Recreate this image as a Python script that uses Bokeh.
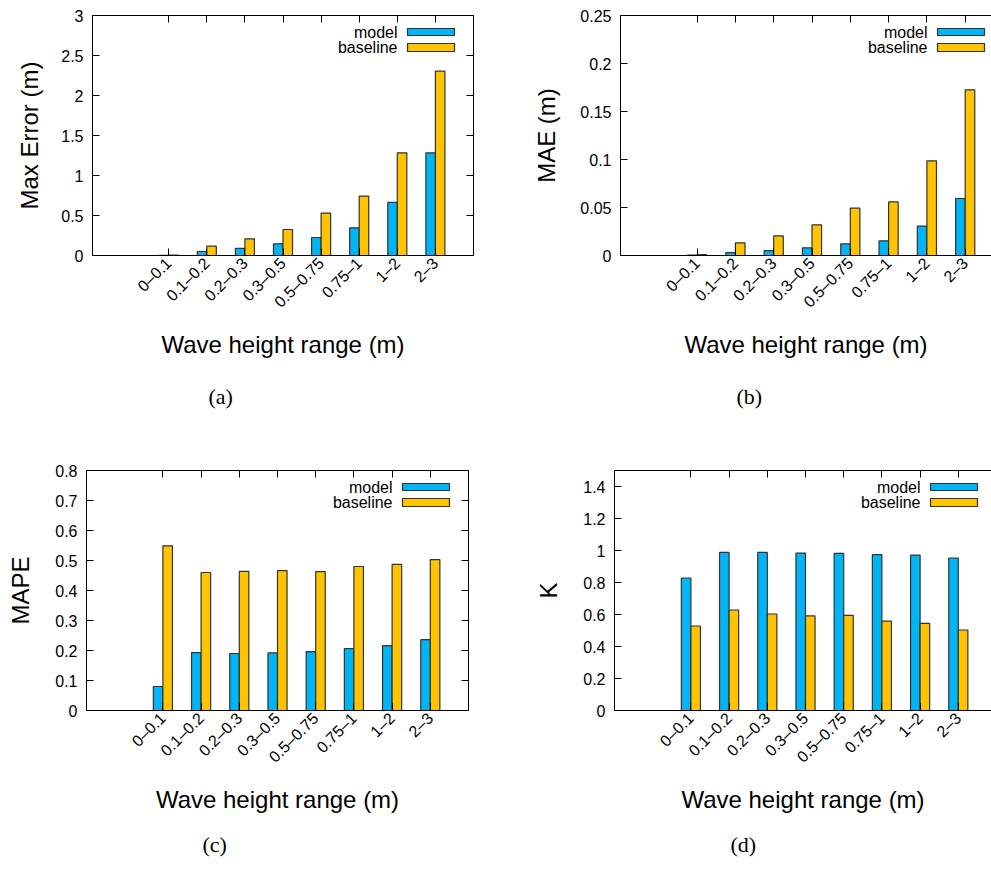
import math
from bokeh.plotting import figure
from bokeh.models import (ColumnDataSource, Range1d, FixedTicker, LinearAxis,
                          NumeralTickFormatter, Label, BoxAnnotation, Title)
from bokeh.layouts import column, row
from bokeh.transform import dodge
from bokeh.embed import file_html
from bokeh.resources import INLINE

categories = ["0\u20130.1", "0.1\u20130.2", "0.2\u20130.3", "0.3\u20130.5",
              "0.5\u20130.75", "0.75\u20131", "1\u20132", "2\u20133"]
series_names = ["model", "baseline"]

maxerr_model = [0.003, 0.05, 0.088, 0.146, 0.225, 0.346, 0.663, 1.283]
maxerr_baseline = [0.006, 0.117, 0.208, 0.325, 0.529, 0.742, 1.283, 2.304]
mae_model = [0.0005, 0.003, 0.005, 0.008, 0.0122, 0.0153, 0.0306, 0.0594]
mae_baseline = [0.001, 0.0132, 0.0205, 0.032, 0.0493, 0.0559, 0.0986, 0.1726]
mape_model = [0.08, 0.193, 0.19, 0.192, 0.196, 0.206, 0.216, 0.236]
mape_baseline = [0.549, 0.46, 0.464, 0.466, 0.463, 0.48, 0.487, 0.503]
k_model = [0.828, 0.988, 0.988, 0.984, 0.982, 0.974, 0.971, 0.953]
k_baseline = [0.528, 0.628, 0.603, 0.591, 0.595, 0.558, 0.545, 0.503]

ticks_a = [0, 0.5, 1, 1.5, 2, 2.5, 3]
ticks_b = [0, 0.05, 0.1, 0.15, 0.2, 0.25]
ticks_c = [0, 0.1, 0.2, 0.3, 0.4, 0.5, 0.6, 0.7, 0.8]
ticks_d = [0, 0.2, 0.4, 0.6, 0.8, 1, 1.2, 1.4]

MODEL_COLOR = "#00b4f5"
BASE_COLOR = "#ffc300"
EDGE = "#333333"
SANS = "Liberation Sans"
SERIF = "Liberation Serif"


def make_panel(ylabel, model, baseline, ymax, yticks, width, height,
               left, right, top, bottom, xend, full_w, caption, closed, ystand,
               cap_standoff):
    idx = list(range(len(categories)))
    src = ColumnDataSource(dict(x=idx, model=model, baseline=baseline))
    p = figure(width=width, height=height, x_range=Range1d(-2, xend),
               y_range=Range1d(0, ymax), output_backend="svg",
               toolbar_location=None, min_border_left=left,
               min_border_right=right, min_border_top=top,
               min_border_bottom=bottom)
    p.xgrid.visible = False
    p.ygrid.visible = False
    p.background_fill_color = "white"
    p.border_fill_color = "white"
    if closed:
        p.outline_line_color = "black"
        p.outline_line_width = 1
    else:
        p.outline_line_color = None

    p.vbar(x=dodge("x", -0.125), top="model", width=0.25, source=src,
           fill_color=MODEL_COLOR, line_color=EDGE, line_width=1.2)
    p.vbar(x=dodge("x", 0.125), top="baseline", width=0.25, source=src,
           fill_color=BASE_COLOR, line_color=EDGE, line_width=1.2)

    # bottom axis
    xa = p.xaxis[0]
    xa.ticker = FixedTicker(ticks=idx)
    xa.major_label_overrides = {i: c for i, c in zip(idx, categories)}
    xa.major_label_orientation = math.pi / 4
    xa.major_label_text_font = SANS
    xa.major_label_text_font_size = "16px"
    xa.major_label_text_color = "black"
    xa.major_label_standoff = 5
    xa.major_tick_in = 7
    xa.major_tick_out = 0
    xa.minor_tick_line_color = None
    xa.axis_line_color = "black"
    xa.major_tick_line_color = "black"
    xa.axis_label = "Wave height range (m)"
    xa.axis_label_text_font = SANS
    xa.axis_label_text_font_size = "24px"
    xa.axis_label_text_font_style = "normal"
    xa.axis_label_text_color = "black"
    xa.axis_label_standoff = 11

    # left axis
    ya = p.yaxis[0]
    ya.ticker = FixedTicker(ticks=yticks)
    ya.formatter = NumeralTickFormatter(format="0.[00]")
    ya.major_label_text_font = SANS
    ya.major_label_text_font_size = "16px"
    ya.major_label_text_color = "black"
    ya.major_label_standoff = 9
    ya.major_tick_in = 7
    ya.major_tick_out = 0
    ya.minor_tick_line_color = None
    ya.axis_line_color = "black"
    ya.major_tick_line_color = "black"
    ya.axis_label = ylabel
    ya.axis_label_text_font = SANS
    ya.axis_label_text_font_size = "24px"
    ya.axis_label_text_font_style = "normal"
    ya.axis_label_text_color = "black"
    ya.axis_label_standoff = ystand

    # mirrored top ticks (labels hidden)
    ta = LinearAxis(ticker=FixedTicker(ticks=idx), major_label_text_font_size="1px",
                    major_label_text_color=None, major_label_standoff=0,
                    major_tick_in=7, major_tick_out=0,
                    minor_tick_line_color=None, major_tick_line_color="black",
                    axis_line_color="black")
    p.add_layout(ta, "above")
    if closed:
        ra = LinearAxis(ticker=FixedTicker(ticks=yticks), major_label_text_font_size="1px",
                        major_label_text_color=None, major_label_standoff=0,
                        major_tick_in=7, major_tick_out=0,
                        minor_tick_line_color=None, major_tick_line_color="black",
                        axis_line_color="black")
        p.add_layout(ra, "right")

    # legend (gnuplot style: text, then sample box on the right)
    fh = 240
    rows = [(series_names[0], MODEL_COLOR, 13, 20, 16.5),
            (series_names[1], BASE_COLOR, 28, 36, 32)]
    for name, col, t, b, ty in rows:
        p.add_layout(BoxAnnotation(left=full_w - 66, right=full_w - 19,
                                   top=fh - t, bottom=fh - b,
                                   left_units="screen", right_units="screen",
                                   top_units="screen", bottom_units="screen",
                                   fill_color=col, fill_alpha=1.0,
                                   line_color=EDGE, line_width=1.2, line_alpha=1.0))
        p.add_layout(Label(x=full_w - 76, y=fh - ty, x_units="screen", y_units="screen",
                           text=name, text_align="right", text_baseline="middle",
                           text_font=SANS, text_font_size="16px", text_color="black"))

    cap = Title(text=caption, align="left", offset=116, standoff=cap_standoff,
                text_font=SERIF, text_font_size="22px", text_font_style="normal",
                text_color="black", text_line_height=0.9)
    p.add_layout(cap, "below")
    return p


pa = make_panel("Max Error (m)", maxerr_model, maxerr_baseline, 3, ticks_a,
                508, 455, 92, 35, 15, 200, 8, 381, "(a)", True, 15, 42)
pb = make_panel("MAE (m)", mae_model, mae_baseline, 0.25, ticks_b,
                483, 455, 112, 0, 15, 200, -2 + 371 / 38.3, 383, "(b)", False, 17, 42)
pc = make_panel("MAPE", mape_model, mape_baseline, 0.8, ticks_c,
                508, 416, 86, 40, 15, 161, 8, 382, "(c)", True, 18, 29)
pd_ = make_panel("K", k_model, k_baseline, 1.5, ticks_d,
                 483, 416, 106, 0, 15, 161, -2 + 377 / 38.2, 382, "(d)", False, 18, 29)

layout = column(row(pa, pb), row(pc, pd_))
open("out.html", "w").write(file_html(layout, INLINE))
